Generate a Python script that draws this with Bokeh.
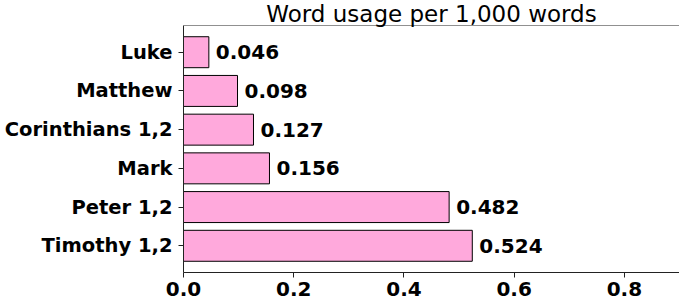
from bokeh.plotting import figure
from bokeh.models import ColumnDataSource, FixedTicker, Span
from bokeh.core.properties import value
from bokeh.embed import file_html
from bokeh.resources import INLINE

# Word usage per 1,000 words, listed bottom to top
books = ["Timothy 1,2", "Peter 1,2", "Mark", "Corinthians 1,2", "Matthew", "Luke"]
usage = [0.524, 0.482, 0.156, 0.127, 0.098, 0.046]
x_ticks = [0.0, 0.2, 0.4, 0.6, 0.8]
title_text = "Word usage per 1,000 words"

positions = list(range(len(books)))
source = ColumnDataSource(dict(
    y=positions,
    value=usage,
    label=[f"{v:.3f}" for v in usage],
))

FONT = "DejaVu Sans"
FS = "20px"
X_MAX = 0.9
Y_TOP = len(books) - 1 + 0.69

p = figure(
    width=679, height=301,
    frame_width=496, frame_height=247,
    min_border_left=183, min_border_right=0,
    min_border_top=0, min_border_bottom=30,
    x_range=(0, X_MAX), y_range=(-0.69, Y_TOP),
    output_backend="svg", toolbar_location=None,
    title=title_text,
)
p.title.align = "center"
p.title.text_font = FONT
p.title.text_font_style = "normal"
p.title.text_font_size = "23px"
p.title.text_color = "black"
p.title.standoff = -3
p.title.offset = 0

p.hbar(y="y", right="value", left=0, height=0.8, source=source,
       fill_color="#FFA9DC", line_color="black", line_width=1)

p.text(x="value", y="y", text="label", source=source,
       x_offset=7, text_baseline="middle", text_align="left",
       text_font=value(FONT), text_font_style="bold", text_font_size=FS,
       text_color="black")

p.outline_line_color = None
p.grid.visible = False
p.add_layout(Span(location=Y_TOP, dimension="width",
                  line_color="#222222", line_width=1))

p.xaxis.ticker = FixedTicker(ticks=x_ticks)
p.xaxis.major_label_overrides = {t: f"{t:.1f}" for t in x_ticks}
p.yaxis.ticker = FixedTicker(ticks=positions)
p.yaxis.major_label_overrides = {i: b for i, b in zip(positions, books)}

for ax in (p.xaxis, p.yaxis):
    ax.minor_tick_line_color = None
    ax.major_tick_in = 0
    ax.major_tick_out = 5
    ax.axis_line_color = "#222222"
    ax.major_tick_line_color = "#222222"
    ax.major_label_text_font = FONT
    ax.major_label_text_font_style = "bold"
    ax.major_label_text_font_size = FS
    ax.major_label_text_color = "black"
p.yaxis.major_label_text_font_size = "19.5px"
p.yaxis.major_label_standoff = 6
p.xaxis.major_label_standoff = 4

open("out.html", "w").write(file_html(p, INLINE))
